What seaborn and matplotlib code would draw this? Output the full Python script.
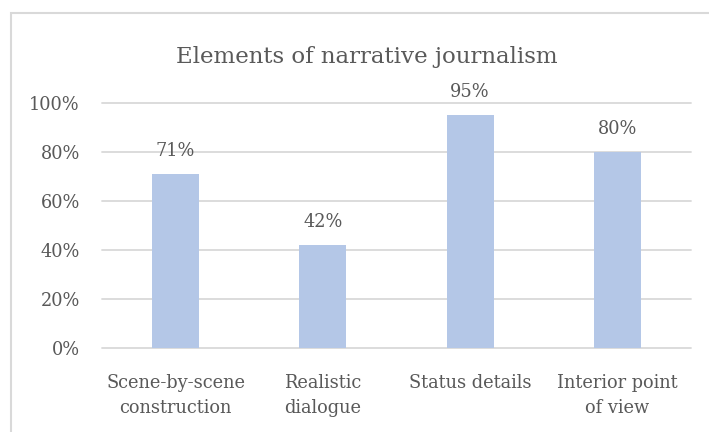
import matplotlib
matplotlib.use("Agg")
import matplotlib.pyplot as plt
import seaborn as sns
import pandas as pd
from matplotlib.ticker import PercentFormatter
from matplotlib.patches import Rectangle

# Chart data
categories = ["Scene-by-scene\nconstruction", "Realistic\ndialogue", "Status details", "Interior point\nof view"]
shares = [0.71, 0.42, 0.95, 0.80]
y_ticks = [0.0, 0.2, 0.4, 0.6, 0.8, 1.0]
title = "Elements of narrative journalism"

TEXT = "#595959"
GRID = "#D9D9D9"
BAR = "#B4C7E7"
FONT = ["DejaVu Serif"]
FS = 12.8

sns.set_style("white")
plt.rcParams["font.family"] = FONT

df = pd.DataFrame({"element": categories, "share": shares})

fig = plt.figure(figsize=(7.09, 4.32), dpi=100)
ax = fig.add_axes([102 / 709, 1 - 348 / 432, 589 / 709, 245 / 432])

sns.barplot(data=df, x="element", y="share", color=BAR, width=0.32,
            saturation=1, linewidth=0, ax=ax, zorder=3)

ax.set_ylim(0, 1)
ax.set_yticks(y_ticks)
ax.yaxis.set_major_formatter(PercentFormatter(1.0, decimals=0))
ax.set_xlim(-0.5, len(categories) - 0.5)
ax.grid(axis="y", color=GRID, linewidth=1.3, zorder=0)
for gl in ax.get_ygridlines():
    gl.set_clip_on(False)
ax.set_axisbelow(True)
for s in ax.spines.values():
    s.set_visible(False)
ax.set_xlabel("")
ax.set_ylabel("")
ax.tick_params(axis="y", length=0, pad=16, labelsize=FS, labelcolor=TEXT)
ax.tick_params(axis="x", length=0, pad=19, labelsize=FS, labelcolor=TEXT)
for lbl in ax.get_xticklabels():
    lbl.set_linespacing(1.5)

# Value labels above each bar
for i, v in enumerate(shares):
    ax.annotate(f"{v:.0%}", (i, v), xytext=(0, 10), textcoords="offset points",
                ha="center", va="bottom", fontsize=FS, color=TEXT)

fig.text(367 / 709, 1 - 57 / 432, title, ha="center", va="center",
         fontsize=16.5, color=TEXT)

# Chart frame (top and left edges visible)
fig.patches.append(Rectangle((11 / 709, -0.1), 1.0, 1 - 13.5 / 432 + 0.1,
                             transform=fig.transFigure, fill=False,
                             edgecolor=GRID, linewidth=1.5))

fig.savefig("out.png", dpi=100)
